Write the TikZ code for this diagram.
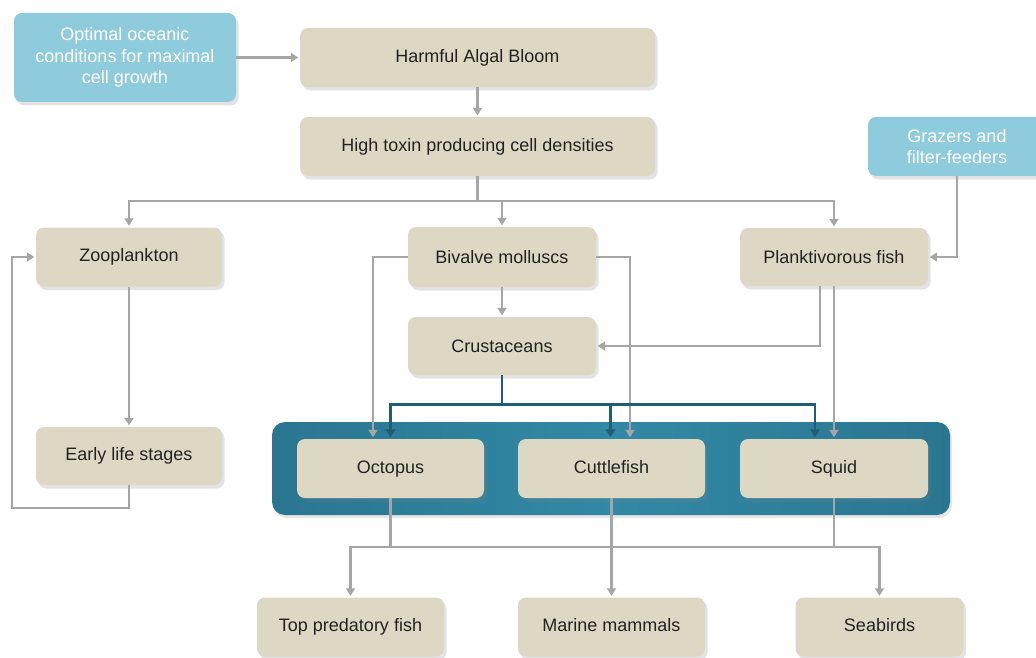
\documentclass[tikz,border=0pt]{standalone}
\usepackage{fontspec}
\setmainfont{Liberation Sans}
\usetikzlibrary{arrows.meta,shadows,calc}
\definecolor{beige}{HTML}{DDD8C3}
\definecolor{skyb}{HTML}{8ECBDC}
\definecolor{tealdark}{HTML}{2A7690}
\definecolor{teallight}{HTML}{3289A5}
\definecolor{tealline}{HTML}{1F5F73}
\definecolor{grayline}{HTML}{A6A6A6}
\definecolor{txt}{HTML}{222222}
\begin{document}
\begin{tikzpicture}[x=1pt,y=-1pt,
  cbox/.style={rounded corners=8pt, fill=beige, draw=none, text=txt,
    font=\fontsize{18}{21.5}\selectfont, align=center, inner sep=0pt,
    drop shadow={shadow xshift=2.5pt, shadow yshift=-3.5pt, opacity=0.22}},
  bluebox/.style={cbox, fill=skyb, text=white},
  gline/.style={draw=grayline, line width=2.2pt},
  conn/.style={gline, -{Triangle[width=9pt,length=7.5pt]}, shorten >=1.5pt},
  tline/.style={draw=tealline, line width=2.4pt},
  tconn/.style={tline, -{Triangle[width=9.5pt,length=8pt]}, shorten >=1.5pt}]
\useasboundingbox (0,0) rectangle (1036,658);
\clip (0,0) rectangle (1036,658);

% teal panel
\path[rounded corners=13pt, left color=tealdark, right color=tealdark, middle color=teallight,
  drop shadow={shadow xshift=2pt, shadow yshift=-3pt, opacity=0.2}]
  (272,422) rectangle (950,515);

% nodes
\node[bluebox, minimum width=222pt, minimum height=89pt] (opt) at (125,57.5)
  {Optimal oceanic\\conditions for maximal\\cell growth};
\node[cbox, minimum width=355pt, minimum height=59pt] (hab) at (477.5,57.5) {Harmful Algal Bloom};
\node[cbox, minimum width=355pt, minimum height=59pt] (tox) at (477.5,146.5) {High toxin producing cell densities};
\node[bluebox, minimum width=178pt, minimum height=59pt] (graz) at (957,146.5) {Grazers and\\filter-feeders};
\node[cbox, minimum width=186pt, minimum height=59pt] (zoo) at (129,257) {Zooplankton};
\node[cbox, minimum width=188pt, minimum height=60pt] (biv) at (502,257) {Bivalve molluscs};
\node[cbox, minimum width=188pt, minimum height=58pt] (pf) at (834,257) {Planktivorous fish};
\node[cbox, minimum width=188pt, minimum height=58pt] (crus) at (502,346) {Crustaceans};
\node[cbox, minimum width=186pt, minimum height=58pt] (early) at (129,456) {Early life stages};
\node[cbox, minimum width=187pt, minimum height=59pt, text height=13pt, text depth=4pt] (oct) at (390.5,468.5) {Octopus};
\node[cbox, minimum width=187pt, minimum height=59pt, text height=13pt, text depth=4pt] (cut) at (611.5,468.5) {Cuttlefish};
\node[cbox, minimum width=188pt, minimum height=59pt, text height=13pt, text depth=4pt] (sq) at (834,468.5) {Squid};
\node[cbox, minimum width=187pt, minimum height=59pt, text height=13pt, text depth=4pt] (tpf) at (350.5,627) {Top predatory fish};
\node[cbox, minimum width=187pt, minimum height=59pt, text height=13pt, text depth=4pt] (mm) at (611.5,627) {Marine mammals};
\node[cbox, minimum width=168pt, minimum height=59pt, text height=13pt, text depth=4pt] (sb) at (879.5,627) {Seabirds};

% junction coordinates
\coordinate (j1) at (477.5,201);
\coordinate (lp) at (12,508);
\coordinate (j2) at (502,404.5);
\coordinate (j3) at (390.5,547);
\coordinate (j4) at (834,547);

% grey connectors
\draw[conn] (opt.east) -- (hab.west);
\draw[conn] (hab.south) -- (tox.north);
\draw[gline] (tox.south) -- (j1);
\draw[conn] (j1) -| (zoo.north);
\draw[conn] (j1) -| (biv.north);
\draw[conn] (j1) -| (pf.north);
\draw[conn] (graz.south) |- (pf.east);
\draw[conn] (zoo.south) -- (early.north);
\draw[conn] (early.south) |- (lp) |- (zoo.west);
\draw[conn] (biv.south) -- (crus.north);
\draw[conn] (biv.west) -| ([xshift=-17.5pt]oct.north);
\draw[conn] (biv.east) -| ([xshift=18.5pt]cut.north);
\draw[conn] ([xshift=-14pt]pf.south) |- (crus.east);
\draw[conn] (pf.south) -- (sq.north);

% teal connectors
\draw[tline] (crus.south) -- (j2);
\draw[tconn] (j2) -| (oct.north);
\draw[tconn] (j2) -| ([xshift=-1pt]cut.north);
\draw[tconn] (j2) -| ([xshift=-19pt]sq.north);

% lower connectors
\draw[gline] (oct.south) -- (j3);
\draw[gline] (sq.south) -- (j4);
\draw[gline] (j3) -- (j4);
\draw[conn] (j3) -| (tpf.north);
\draw[conn] (j4) -| (sb.north);
\draw[conn] (cut.south) -- (mm.north);
\end{tikzpicture}
\end{document}
